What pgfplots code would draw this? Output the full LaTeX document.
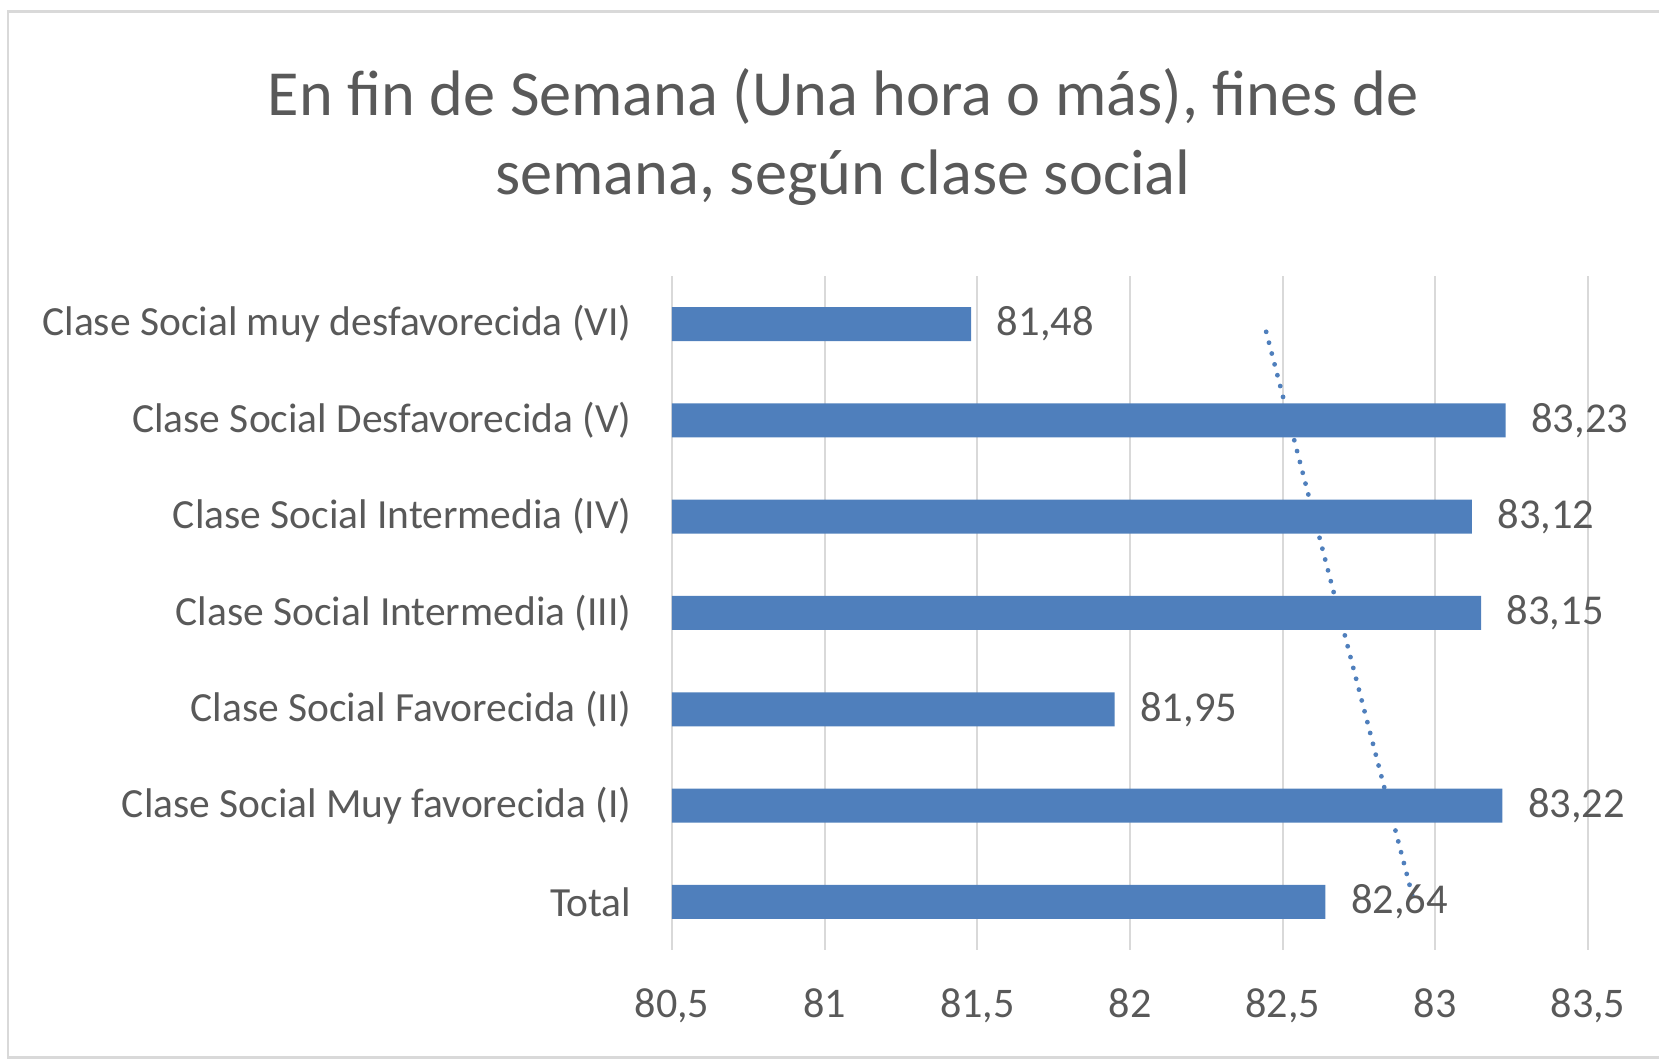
\documentclass[border=0pt]{standalone}
\usepackage{pgfplots}
\pgfplotsset{compat=1.18}
\usepackage{fontspec}
\setmainfont{Carlito}
\definecolor{barblue}{RGB}{79,127,188}
\definecolor{txtgray}{RGB}{89,89,89}
\definecolor{gridgray}{RGB}{217,217,217}
\begin{document}
\begin{tikzpicture}
\useasboundingbox (0,0) rectangle (165.9mm,106mm);
\draw[gridgray, line width=0.3mm] (0.8mm,0.25mm) rectangle (167mm,104.8mm);
\node[txtgray, font=\fontsize{18.3}{22.4}\selectfont, align=center] at (84.3mm,92.3mm)
  {En fin de Semana (Una hora o más), fines de\\semana, según clase social};
\begin{axis}[
  at={(67.2mm,11mm)}, anchor=south west, scale only axis,
  width=91.6mm, height=67.4mm,
  xmin=80.5, xmax=83.5, ymin=-0.5, ymax=6.5,
  xtick={80.5,81,81.5,82,82.5,83,83.5},
  ytick={0,1,2,3,4,5,6},
  yticklabels={Total, Clase Social Muy favorecida (I), Clase Social Favorecida (II),
    Clase Social Intermedia (III), Clase Social Intermedia (IV),
    Clase Social Desfavorecida (V), Clase Social muy desfavorecida (VI)},
  axis line style={draw=none}, tick style={draw=none},
  xmajorgrids, major grid style={gridgray, line width=0.2mm},
  /pgf/number format/assume math mode=true,
  xticklabel style={/pgf/number format/.cd, use comma, fixed, precision=1, /tikz/.cd,
    anchor=base, yshift=-6.8mm, font=\fontsize{12}{14}\selectfont, text=txtgray},
  yticklabel style={anchor=east, inner sep=0pt, xshift=-4mm,
    font=\fontsize{11.8}{14}\selectfont, text=txtgray},
  bar width=3.4mm,
]
\addplot[xbar, fill=barblue, draw=none, point meta=x,
  nodes near coords={\pgfmathprintnumber[fixed,fixed zerofill,precision=2,use comma]{\pgfplotspointmeta}},
  every node near coord/.append style={anchor=west, inner sep=0pt, xshift=2.5mm,
    font=\fontsize{12.1}{14}\selectfont, text=txtgray}]
  coordinates {(82.64,0) (83.22,1) (81.95,2) (83.15,3) (83.12,4) (83.23,5) (81.48,6)};
\addplot[barblue, line width=0.48mm, line cap=round, dash pattern=on 0pt off 1.12mm, forget plot]
  coordinates {(82.446,5.92) (82.93,0)};
\end{axis}
\end{tikzpicture}
\end{document}
